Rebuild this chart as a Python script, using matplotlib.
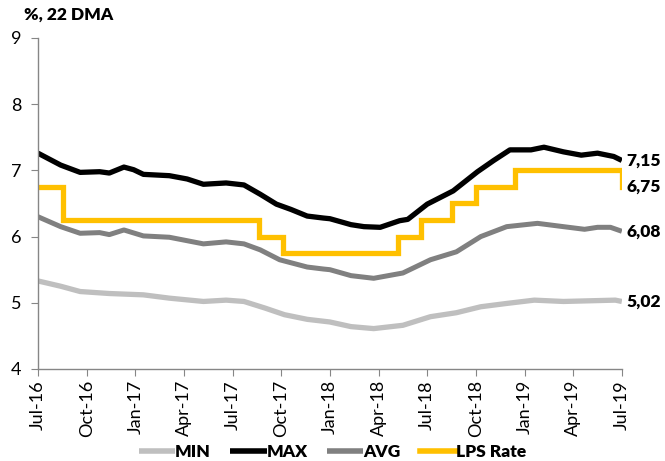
import matplotlib
matplotlib.use("Agg")
import matplotlib.pyplot as plt
import numpy as np

# months since Jul-2016
max_x = [0, 1.4, 2.6, 3.8, 4.4, 5.3, 5.9, 6.5, 8.1, 9.2, 10.2, 11.6, 12.7, 13.7, 14.7, 15.6, 16.6, 17.6, 18.0, 19.3, 20.1, 21.1, 22.3, 22.8, 24.0, 25.6, 27.1, 28.1, 29.1, 30.4, 31.2, 32.4, 33.5, 34.5, 35.5, 36.0]
max_v = [7.26, 7.08, 6.97, 6.98, 6.96, 7.05, 7.01, 6.94, 6.92, 6.87, 6.79, 6.81, 6.78, 6.64, 6.49, 6.41, 6.31, 6.28, 6.27, 6.18, 6.15, 6.14, 6.24, 6.26, 6.49, 6.69, 6.98, 7.15, 7.31, 7.31, 7.35, 7.28, 7.23, 7.26, 7.21, 7.15]

avg_x = [0, 1.4, 2.6, 3.8, 4.4, 5.3, 6.5, 8.1, 10.2, 11.6, 12.7, 13.7, 14.9, 16.6, 17.6, 18.0, 19.3, 20.7, 22.5, 24.2, 25.8, 27.3, 28.9, 30.8, 32.4, 33.7, 34.5, 35.3, 36.0]
avg_v = [6.30, 6.15, 6.05, 6.06, 6.03, 6.10, 6.01, 5.99, 5.89, 5.92, 5.89, 5.80, 5.65, 5.54, 5.51, 5.50, 5.41, 5.37, 5.45, 5.65, 5.77, 6.00, 6.15, 6.20, 6.15, 6.11, 6.14, 6.14, 6.08]

min_x = [0, 1.4, 2.6, 4.4, 6.5, 8.1, 10.2, 11.6, 12.7, 14.0, 15.2, 16.6, 18.0, 19.3, 20.7, 22.5, 24.2, 25.8, 27.3, 28.9, 30.6, 32.4, 34.0, 35.6, 36.0]
min_v = [5.33, 5.25, 5.17, 5.14, 5.12, 5.07, 5.02, 5.04, 5.02, 4.92, 4.82, 4.75, 4.71, 4.64, 4.61, 4.66, 4.79, 4.85, 4.94, 4.99, 5.04, 5.02, 5.03, 5.04, 5.02]

lps_x = [0, 1.56, 13.6, 15.1, 22.2, 23.6, 25.5, 27.0, 29.4, 36.0, 36.0]
lps_v = [6.75, 6.25, 6.00, 5.75, 6.00, 6.25, 6.50, 6.75, 7.00, 7.00, 6.75]

tick_pos = list(range(0, 37, 3))
tick_labels = ["Jul-16", "Oct-16", "Jan-17", "Apr-17", "Jul-17", "Oct-17", "Jan-18",
               "Apr-18", "Jul-18", "Oct-18", "Jan-19", "Apr-19", "Jul-19"]

end_labels = ["7,15", "6,75", "6,08", "5,02"]
end_values = [7.15, 6.75, 6.08, 5.02]

plt.rcParams['font.family'] = ['Lato', 'DejaVu Sans']

fig = plt.figure(figsize=(6.65, 4.61), dpi=100)
ax = fig.add_axes([0.0571, 0.1996, 0.878, 0.718])

ax.plot(min_x, min_v, color="#BFBFBF", lw=3.8, label="MIN", solid_capstyle="butt")
ax.plot(max_x, max_v, color="#000000", lw=3.8, label="MAX", solid_capstyle="butt")
ax.plot(avg_x, avg_v, color="#808080", lw=3.6, label="AVG", solid_capstyle="butt")
ax.step(lps_x, lps_v, where="post", color="#FFC000", lw=3.8, label="LPS Rate", solid_joinstyle="miter")

ax.set_xlim(0, 36)
ax.set_ylim(4, 9)
ax.set_yticks([4, 5, 6, 7, 8, 9])
ax.set_xticks(tick_pos)
ax.set_xticklabels(tick_labels, rotation=90, fontsize=13)
ax.tick_params(axis='y', labelsize=13, length=5, color="#868686", pad=7)
ax.tick_params(axis='x', length=5, color="#868686", pad=3)

for s in ["top", "right"]:
    ax.spines[s].set_visible(False)
for s in ["left", "bottom"]:
    ax.spines[s].set_color("#868686")
    ax.spines[s].set_linewidth(1.0)

for lab, v in zip(end_labels, end_values):
    ax.annotate(lab, xy=(36, v), xytext=(3, 0), textcoords="offset points",
                va="center", ha="left", fontsize=12.5, fontweight="heavy", annotation_clip=False)

fig.text(0.036, 0.968, "%, 22 DMA", fontsize=12.5, fontweight="heavy", va="center", ha="left")

leg = fig.legend(loc="center", bbox_to_anchor=(0.5, 0.02), ncol=4, frameon=False,
                 prop={'weight': 'heavy', 'size': 12.5}, handlelength=2.1, columnspacing=1.1,
                 handletextpad=0.0)
for h in leg.get_lines():
    h.set_linewidth(4.0)

fig.savefig("out.png", dpi=100)
